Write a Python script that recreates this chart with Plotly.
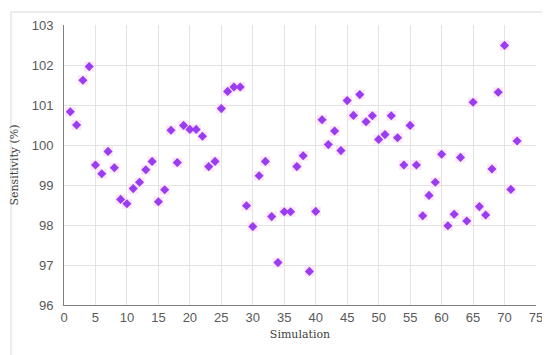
import plotly.graph_objects as go

simulation = list(range(1, 73))
sensitivity = [
    100.83, 100.50, 101.62, 101.96, 99.50, 99.28, 99.84, 99.43, 98.64, 98.53,
    98.91, 99.07, 99.38, 99.59, 98.58, 98.88, 100.37, 99.56, 100.49, 100.39,
    100.39, 100.22, 99.46, 99.59, 100.91, 101.34, 101.45, 101.45, 98.48, 97.96,
    99.23, 99.59, 98.21, 97.06, 98.33, 98.33, 99.46, 99.73, 96.84, 98.34,
    100.63, 100.01, 100.35, 99.86, 101.11, 100.74, 101.26, 100.58, 100.73, 100.14,
    100.26, 100.73, 100.18, 99.50, 100.49, 99.50, 98.23, 98.74, 99.07, 99.77,
    97.98, 98.27, 99.69, 98.10, 101.07, 98.46, 98.25, 99.40, 101.32, 102.49,
    98.89, 100.10,
]
x_ticks = list(range(0, 76, 5))
y_ticks = list(range(96, 104))

W, H = 550, 355
ml, mr, mt, mb = 56, 22, 17, 58
pw, ph = W - ml - mr, H - mt - mb

def px_x(p):
    return (p - ml) / pw

def px_y(p):
    return (H - mb - p) / ph

fig = go.Figure()
# soft halo behind each marker
fig.add_trace(go.Scatter(
    x=simulation, y=sensitivity, mode="markers",
    marker=dict(symbol="square", size=10, color="#fce6f8", line=dict(width=0)),
    hoverinfo="skip", showlegend=False,
))
fig.add_trace(go.Scatter(
    x=simulation, y=sensitivity, mode="markers",
    marker=dict(symbol="diamond", size=7, color="#9a3df0", line=dict(width=0)),
    showlegend=False,
))

axis_font = dict(family="Liberation Sans, Arial, sans-serif", size=13, color="#595959")
title_font = dict(family="DejaVu Serif, Liberation Serif, serif", size=11, color="#404040")

fig.update_xaxes(
    range=[0, 75], tickvals=x_ticks, ticktext=[str(v) for v in x_ticks],
    showgrid=True, gridcolor="#e3e3e3", gridwidth=1,
    showline=True, linecolor="#7f7f7f", linewidth=1,
    zeroline=False, ticks="", tickfont=axis_font, ticklabelstandoff=0,
    automargin=False,
    title=dict(text="Simulation", font=title_font, standoff=6),
)
fig.update_yaxes(
    range=[96, 103], tickvals=y_ticks, ticktext=[str(v) for v in y_ticks],
    showgrid=True, gridcolor="#e3e3e3", gridwidth=1,
    showline=True, linecolor="#7f7f7f", linewidth=1,
    zeroline=False, ticks="", tickfont=axis_font, ticklabelstandoff=7,
    automargin=False,
    title=dict(text="Sensitivity (%)", font=title_font, standoff=10),
)

fig.add_shape(
    type="rect", xref="paper", yref="paper",
    x0=px_x(3), x1=px_x(546), y0=px_y(350), y1=px_y(4),
    line=dict(color="#d9d9d9", width=1), fillcolor="rgba(0,0,0,0)", layer="below",
)

fig.update_layout(
    width=W, height=H,
    margin=dict(l=ml, r=mr, t=mt, b=mb),
    paper_bgcolor="white", plot_bgcolor="white",
)

fig.write_html("out.html")
